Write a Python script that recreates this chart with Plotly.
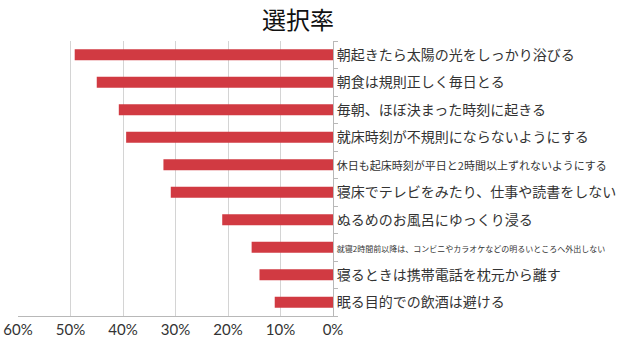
import plotly.graph_objects as go

categories = [
    "朝起きたら太陽の光をしっかり浴びる",
    "朝食は規則正しく毎日とる",
    "毎朝、ほぼ決まった時刻に起きる",
    "就床時刻が不規則にならないようにする",
    "休日も起床時刻が平日と2時間以上ずれないようにする",
    "寝床でテレビをみたり、仕事や読書をしない",
    "ぬるめのお風呂にゆっくり浸る",
    "就寝2時間前以降は、コンビニやカラオケなどの明るいところへ外出しない",
    "寝るときは携帯電話を枕元から離す",
    "眠る目的での飲酒は避ける",
]
values = [49.2, 45.0, 40.8, 39.4, 32.3, 30.9, 21.1, 15.5, 14.0, 11.1]
label_sizes = [14, 14, 14, 14, 11, 14, 14, 8, 14, 14]
x_ticks = [60, 50, 40, 30, 20, 10, 0]
x_ticktext = ["60%", "50%", "40%", "30%", "20%", "10%", "0%"]

ticktext = [f"<span style='font-size:{s}px'>{c}</span>" for c, s in zip(categories, label_sizes)]

fig = go.Figure(go.Bar(
    x=values, y=categories, orientation="h",
    marker=dict(color="#d13a42", line=dict(width=0)),
))

fig.update_layout(
    width=640, height=340,
    margin=dict(l=18, r=307, t=41, b=24),
    paper_bgcolor="white", plot_bgcolor="white",
    bargap=0.6, showlegend=False,
    font=dict(family="Noto Sans CJK JP", color="#333333"),
    annotations=[dict(
        text="選択率", xref="paper", yref="paper", x=0.89, y=1.0,
        xanchor="center", yanchor="bottom", yshift=3, showarrow=False,
        font=dict(size=24, color="#111111", family="Noto Sans CJK JP"),
    )],
)
fig.update_xaxes(
    range=[60, 0], tickvals=x_ticks, ticktext=x_ticktext,
    showgrid=True, gridcolor="#d4d4d4", gridwidth=1,
    showline=True, linecolor="#b8b8b8", linewidth=1,
    zeroline=False, ticks="", automargin=False,
    tickfont=dict(size=15, color="#333333", family="Lato"),
)
fig.update_yaxes(
    side="right", categoryorder="array", categoryarray=categories,
    autorange="reversed", tickvals=categories, ticktext=ticktext,
    showline=True, linecolor="#b8b8b8", linewidth=1,
    ticks="outside", tickson="boundaries", ticklen=4, tickcolor="#b8b8b8",
    showgrid=False, automargin=False,
    tickfont=dict(size=14, color="#333333", family="Noto Sans CJK JP"),
)

fig.write_html("out.html")
